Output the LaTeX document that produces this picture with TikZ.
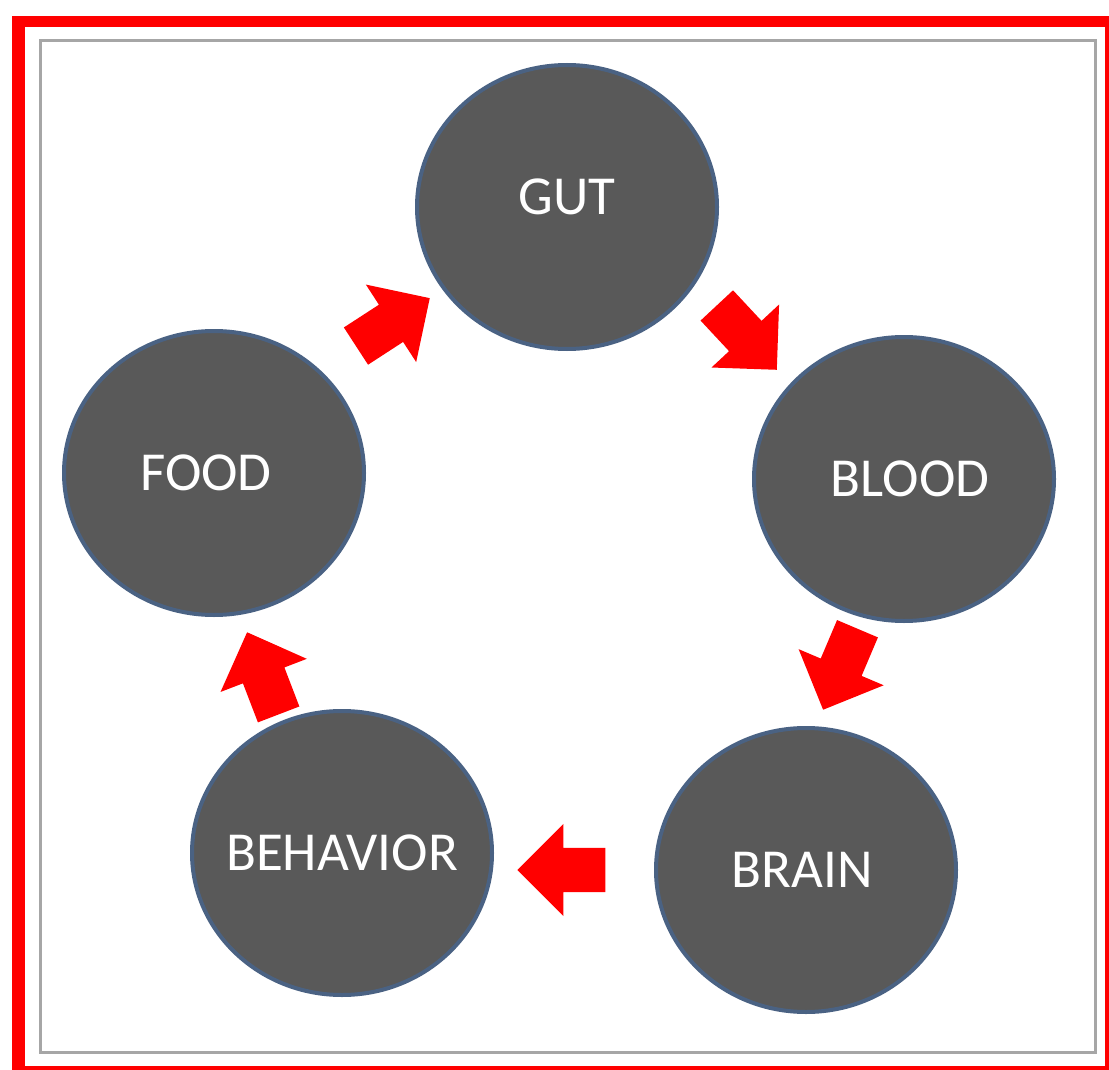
\documentclass[tikz,border=0pt]{standalone}
\usepackage{fontspec}
\usepackage{tikz}
\newfontfamily\cyclefont{Carlito}
\definecolor{disc_fill}{HTML}{595959}
\definecolor{disc_edge}{HTML}{4A6283}
\definecolor{frame_red}{HTML}{FF0000}
\tikzset{
  label_font/.style = {font=\cyclefont\fontsize{55}{60}\selectfont},
  disc_size/.style = {minimum width=300, minimum height=284, inner sep=0}
}
\tikzset{
  disc/.style = {ellipse, disc_size, label_font, fill=disc_fill, draw=disc_edge, line width=4, text=white},
  red_arrow/.style = {single arrow, fill=frame_red, draw=none, inner sep=0,
    text height=22, text depth=22, text width=0,
    minimum height=88, single arrow head extend=24, anchor=tip}
}
\usetikzlibrary{shapes.geometric, shapes.arrows}

\begin{document}
\begin{tikzpicture}[x=1pt, y=-1pt]{
        \useasboundingbox (0,0) rectangle (1109,1070);

        % Frames
        \fill[frame_red] (12,16) rectangle (1109,1070);
        \fill[white] (25,27) rectangle (1105,1066);
        \draw[gray!70, line width=3] (40,41) rectangle (1095,1052);

        % Circles
        \node[disc] (gut) at (567,207) {\makebox[0pt]{\raisebox{20pt}{GUT}}};
        \node[disc] (blood) at (904,479) {\makebox[0pt]{\hspace{12pt}BLOOD}};
        \node[disc] (brain) at (806,870) {\makebox[0pt]{BRAIN\hspace{8pt}}};
        \node[disc] (behavior) at (342,853) {\makebox[0pt]{BEHAVIOR}};
        \node[disc] (food) at (214,473) {\makebox[0pt]{FOOD\hspace{16pt}}};

        % Arrows (placed by their tips)
        \node[red_arrow, rotate=33] (food_gut) at (430,298) {};
        \node[red_arrow, rotate=-47] (gut_blood) at (777,370) {};
        \node[red_arrow, rotate=-113] (blood_brain) at (823,710) {};
        \node[red_arrow, rotate=180] (brain_behavior) at (517,870) {};
        \node[red_arrow, rotate=111] (behavior_food) at (247,632) {};
        }
    \end{tikzpicture}
\end{document}
